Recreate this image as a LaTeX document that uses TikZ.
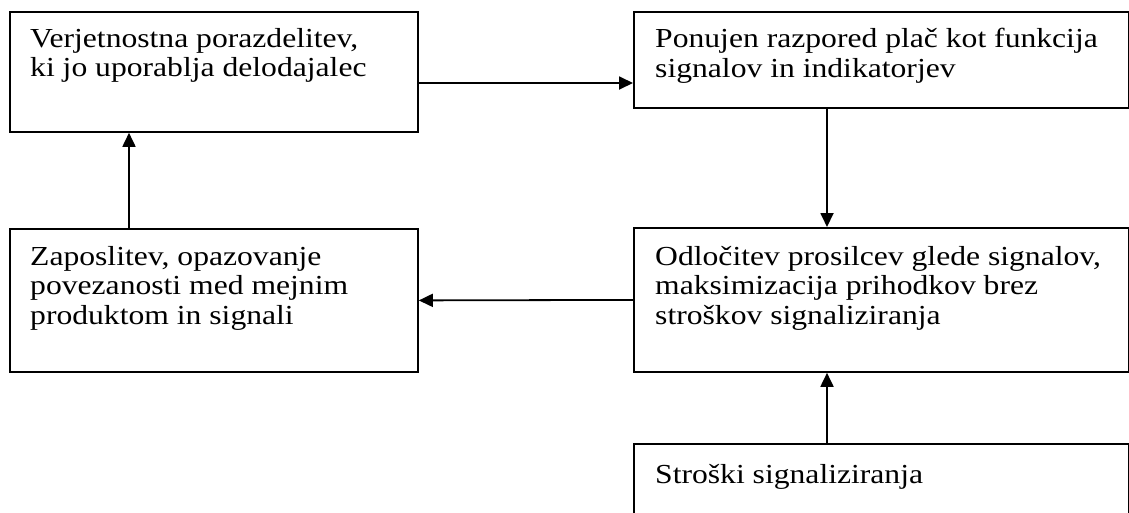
\documentclass[tikz,border=0pt]{standalone}
\usepackage{fontspec}
\setmainfont{Liberation Serif}[FakeStretch=1.15]
\usetikzlibrary{arrows.meta,calc}
\begin{document}
\begin{tikzpicture}[x=1pt,y=-1pt,
  box/.style={draw,line width=1.8pt,rectangle,inner sep=0pt,anchor=north west},
  txt/.style={anchor=north west,inner sep=0pt,align=left,font=\fontsize{27.5}{29.5}\selectfont},
  arr/.style={line width=1.8pt,-{Triangle[length=14pt,width=13pt]}}]
\useasboundingbox (0,0) rectangle (1129,512);
\begin{scope}
\clip (0,0) rectangle (1129,512);
\node[box,minimum width=408pt,minimum height=120pt] (A) at (9,11) {};
\node[box,minimum width=495pt,minimum height=96pt] (B) at (633,11) {};
\node[box,minimum width=408pt,minimum height=143pt] (C) at (9,228) {};
\node[box,minimum width=495pt,minimum height=144pt] (D) at (633,227) {};
\node[box,minimum width=495pt,minimum height=90pt] (E) at (633,443) {};
\end{scope}
\node[txt] (tA) at ($(A.north west)+(21,17)$) {Verjetnostna porazdelitev,\\ki jo uporablja delodajalec};
\node[txt] (tB) at ($(B.north west)+(22,17)$) {Ponujen razpored plač kot funkcija\\signalov in indikatorjev};
\node[txt] (tC) at ($(C.north west)+(21,18)$) {Zaposlitev, opazovanje\\povezanosti med mejnim\\produktom in signali};
\node[txt] (tD) at ($(D.north west)+(22,19)$) {Odločitev prosilcev glede signalov,\\maksimizacija prihodkov brez\\stroškov signaliziranja};
\node[txt] (tE) at ($(E.north west)+(22,21)$) {Stroški signaliziranja};
\coordinate (a1) at ($(A.north east)+(0,72)$);
\draw[arr] (a1) -- (a1 -| B.west);
\coordinate (b1) at (827,107);
\draw[arr] (b1 |- B.south) -- (b1 |- D.north);
\draw[arr] (D.west) -- (C.east);
\coordinate (c1) at (129,228);
\draw[arr] (c1 |- C.north) -- (c1 |- A.south);
\draw[arr] (b1 |- E.north) -- (b1 |- D.south);
\end{tikzpicture}
\end{document}
